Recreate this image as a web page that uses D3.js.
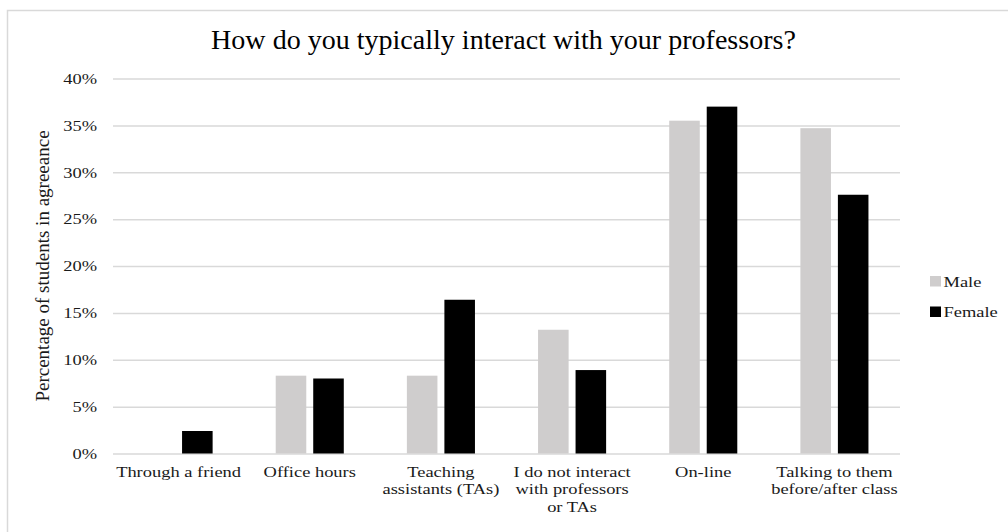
<!DOCTYPE html>
<html>
<head>
<meta charset="utf-8">
<script src="https://cdn.jsdelivr.net/npm/d3@7"></script>
<style>
  html, body { margin: 0; padding: 0; background: #fff; }
  svg { display: block; font-family: "Liberation Serif", "Times New Roman", serif; }
</style>
</head>
<body>
<svg id="chart" width="1008" height="532"></svg>
<script>
// Survey categories (x-axis), one line per array entry
const categories = [
  ["Through a friend"],
  ["Office hours"],
  ["Teaching", "assistants (TAs)"],
  ["I do not interact", "with professors", "or TAs"],
  ["On-line"],
  ["Talking to them", "before/after class"]
];
// Share of students, in percent
const maleValues   = [0.0, 8.3, 8.3, 13.2, 35.5, 34.7];
const femaleValues = [2.4, 8.0, 16.4, 8.9, 37.0, 27.6];
const seriesNames  = ["Male", "Female"];
const yTicks       = [0, 5, 10, 15, 20, 25, 30, 35, 40];

const colors = { Male: "#cfcdcd", Female: "#000000" };
const textColor = "#1a1a1a";
const smallFont = 15;     // axis, category and legend text
const stretchX = 1.23;    // wide set of the small text

const svg = d3.select("#chart");
const plot = { left: 113, right: 900, top: 78.5, bottom: 453.5 };

// Outer chart frame
svg.append("rect")
  .attr("x", 7.5).attr("y", 10.5)
  .attr("width", 1010).attr("height", 540)
  .attr("fill", "#fff")
  .attr("stroke", "#d9d9d9").attr("stroke-width", 1.5);

// Title
svg.append("text")
  .attr("transform", "translate(503.5,49) scale(1.02,1)")
  .attr("text-anchor", "middle")
  .attr("font-size", 27.5)
  .attr("fill", "#000")
  .text("How do you typically interact with your professors?");

const x = d3.scaleBand()
  .domain(d3.range(categories.length))
  .range([plot.left, plot.right])
  .padding(0);

const y = d3.scaleLinear()
  .domain([0, 40])
  .range([plot.bottom, plot.top]);

// Gridlines and y tick labels
const yAxis = d3.axisLeft(y)
  .tickValues(yTicks)
  .tickSize(-(plot.right - plot.left))
  .tickPadding(16 / stretchX)
  .tickFormat(d => d + "%");

const gy = svg.append("g")
  .attr("transform", `translate(${plot.left},0)`)
  .call(yAxis);
gy.select(".domain").remove();
gy.selectAll(".tick line").attr("stroke", "#d9d9d9").attr("stroke-width", 1.5);
gy.selectAll(".tick text")
  .attr("transform", `scale(${stretchX},1)`)
  .attr("font-size", smallFont)
  .attr("font-family", "Liberation Serif, Times New Roman, serif")
  .attr("fill", textColor);

// Y axis title
svg.append("text")
  .attr("transform", `translate(49,${(plot.top + plot.bottom) / 2}) rotate(-90)`)
  .attr("text-anchor", "middle")
  .attr("font-size", 19)
  .attr("fill", textColor)
  .text("Percentage of students in agreeance");

// Bars
const bw = x.bandwidth();
const barW = bw * 0.233;
const innerGap = bw * 0.053;
const series = [
  { name: "Male", values: maleValues, offset: bw / 2 - innerGap / 2 - barW },
  { name: "Female", values: femaleValues, offset: bw / 2 + innerGap / 2 }
];

series.forEach(s => {
  svg.append("g")
    .selectAll("rect")
    .data(s.values)
    .join("rect")
    .attr("x", (d, i) => x(i) + s.offset)
    .attr("width", barW)
    .attr("y", d => y(d))
    .attr("height", d => y(0) - y(d))
    .attr("fill", colors[s.name]);
});

// Category labels
const xl = svg.append("g");
categories.forEach((lines, i) => {
  const t = xl.append("text")
    .attr("transform", `translate(${x(i) + bw / 2},477) scale(${stretchX},1)`)
    .attr("text-anchor", "middle")
    .attr("font-size", smallFont)
    .attr("fill", textColor);
  lines.forEach((ln, k) => {
    t.append("tspan")
      .attr("x", 0)
      .attr("dy", k === 0 ? 0 : 17.3)
      .text(ln);
  });
});

// Legend
const legend = svg.append("g").attr("transform", "translate(930,0)");
seriesNames.forEach((name, i) => {
  const ly = 276 + i * 30.5;
  legend.append("rect")
    .attr("x", 0).attr("y", ly)
    .attr("width", 11).attr("height", 10.5)
    .attr("fill", colors[name]);
  legend.append("text")
    .attr("transform", `translate(13.5,${ly + 10.5}) scale(${stretchX},1)`)
    .attr("font-size", smallFont)
    .attr("fill", textColor)
    .text(name);
});
</script>
</body>
</html>
